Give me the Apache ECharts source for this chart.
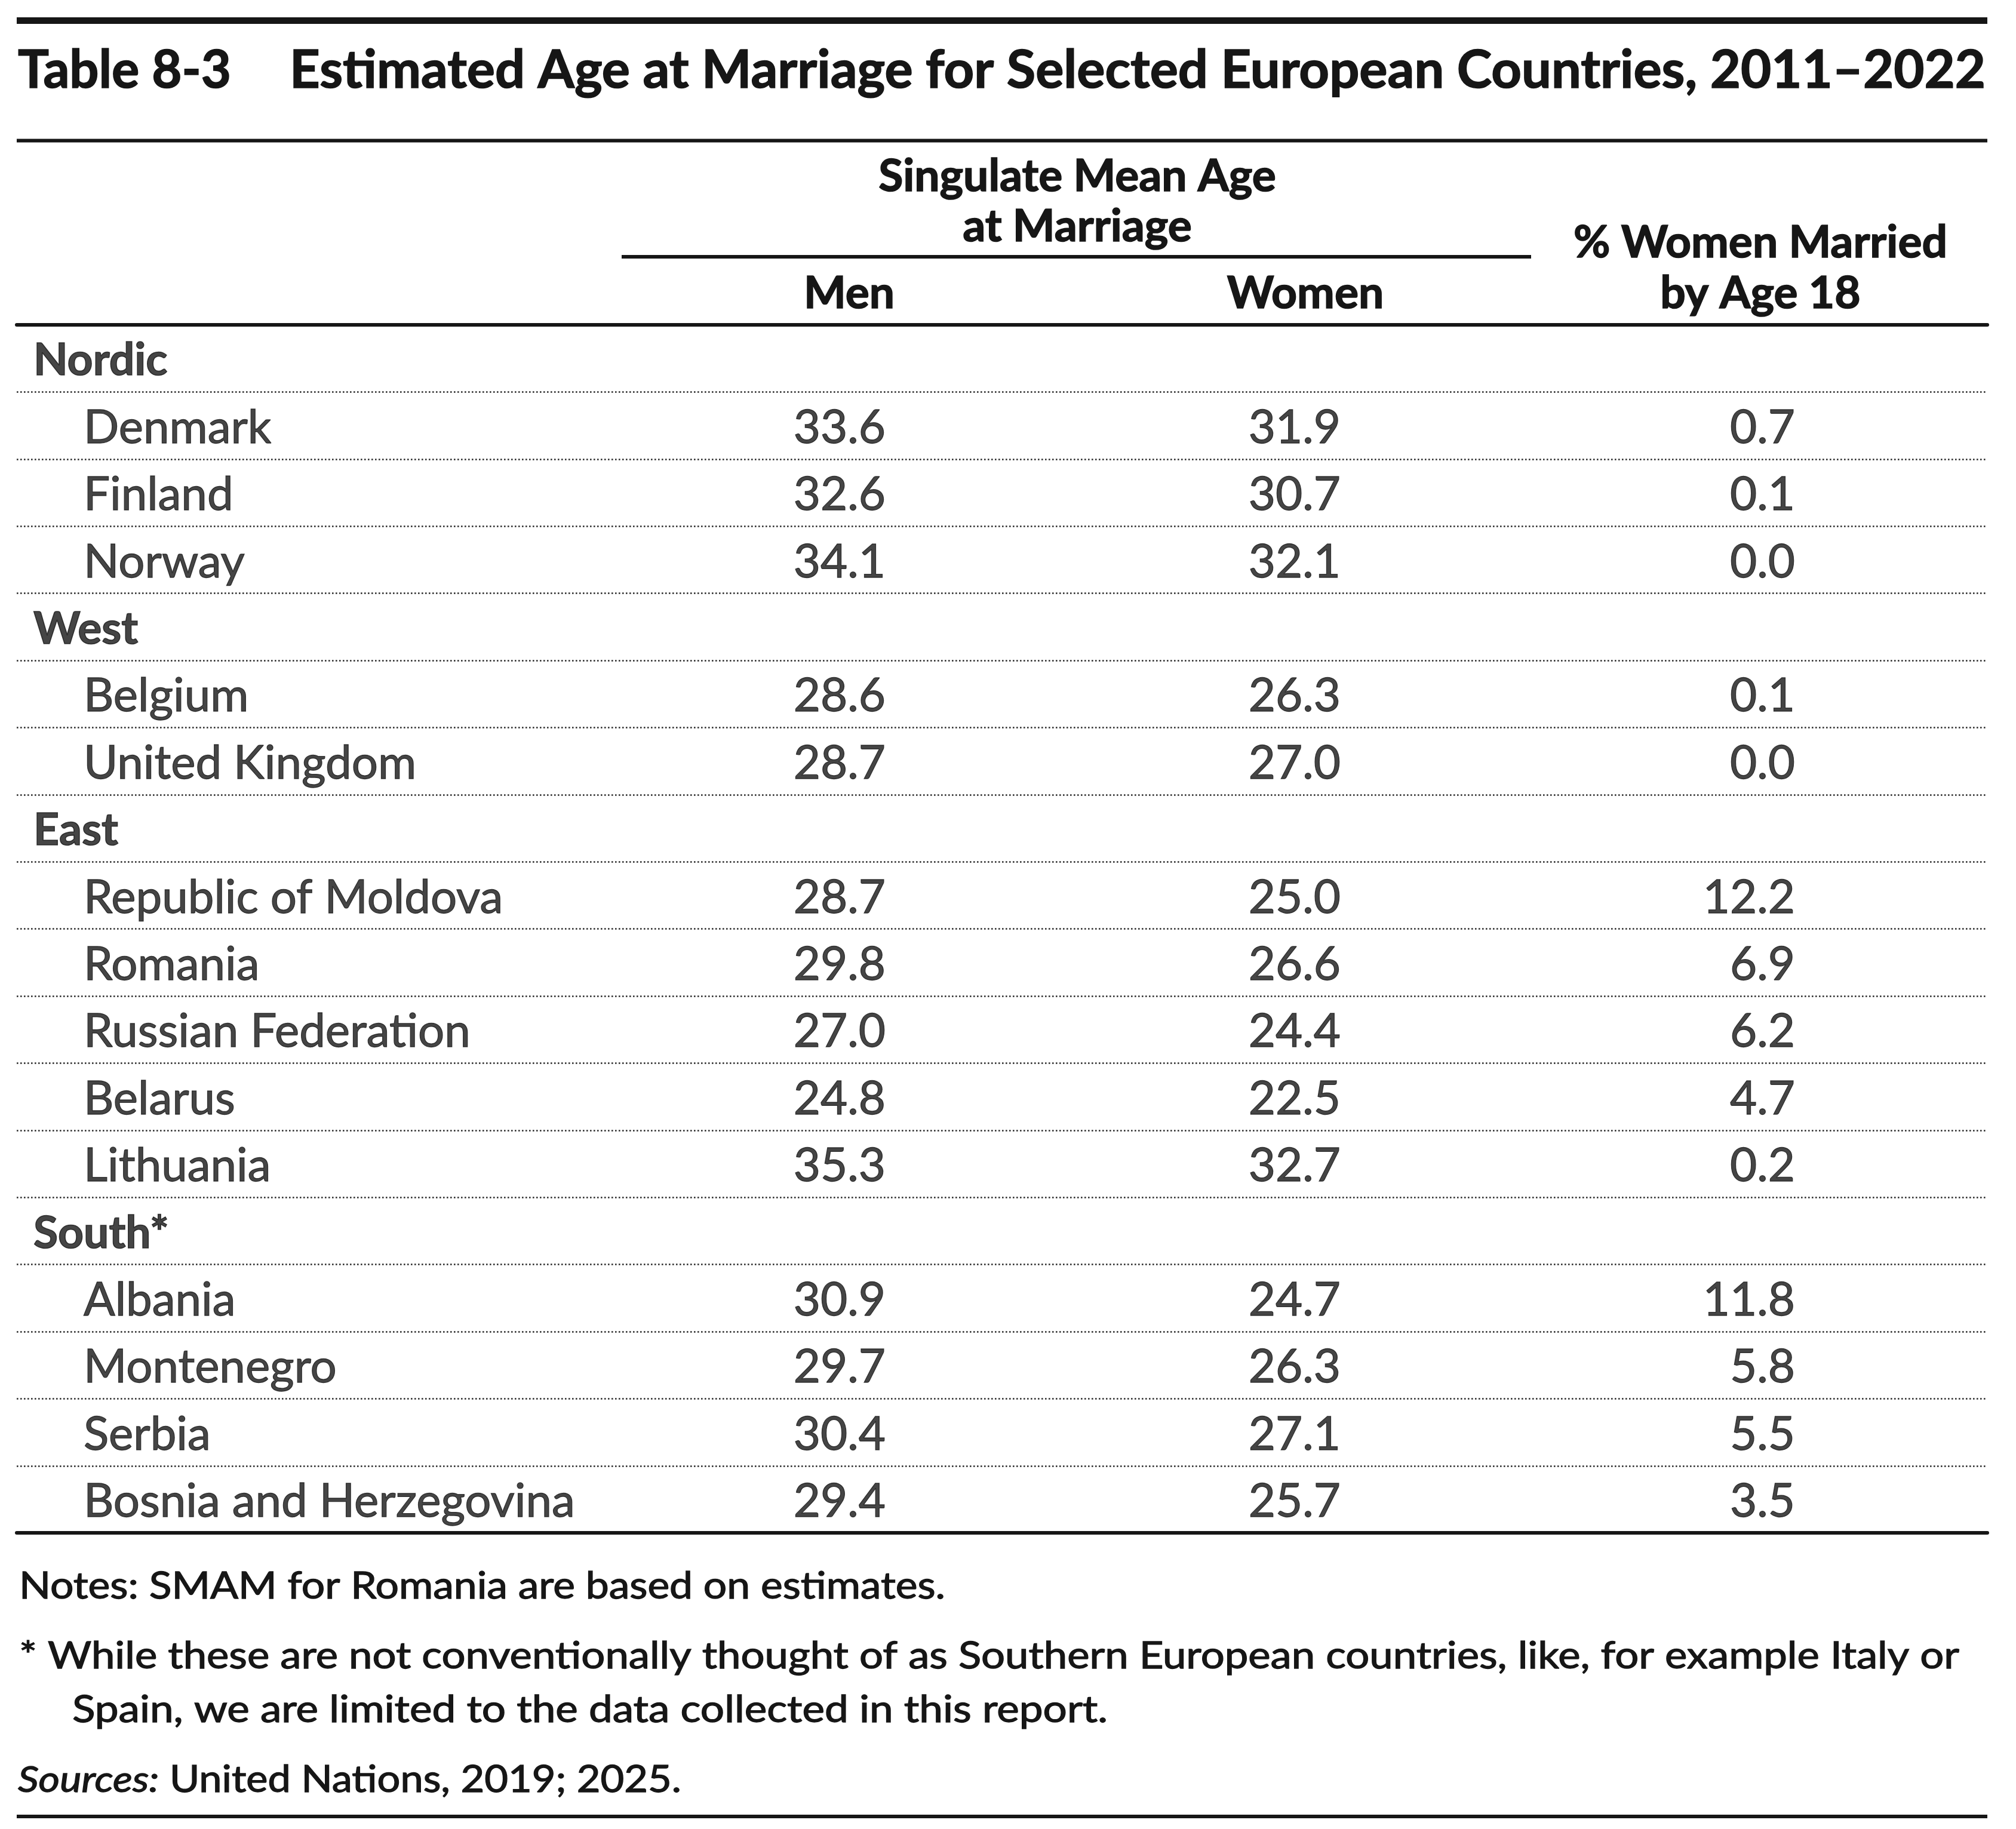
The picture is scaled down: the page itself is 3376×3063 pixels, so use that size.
<!DOCTYPE html>
<html>
<head>
<meta charset="utf-8">
<script src="https://cdn.jsdelivr.net/npm/echarts@6/dist/echarts.min.js"></script>
<style>
html,body{margin:0;padding:0;background:#fff;}
#chart{width:3376px;height:3063px;}
</style>
</head>
<body>
<div id="chart"></div>
<script>
// ---------------- DATA ----------------
const tableNumber = 'Table 8-3';
const tableTitle = 'Estimated Age at Marriage for Selected European Countries, 2011\u20132022';
const spanHeader = ['Singulate Mean Age', 'at Marriage'];
const columnHeaders = ['Men', 'Women'];
const pctHeader = ['% Women Married', 'by Age 18'];
const regions = ['Nordic', 'West', 'East', 'South*'];
const countries = ['Denmark', 'Finland', 'Norway', 'Belgium', 'United Kingdom',
  'Republic of Moldova', 'Romania', 'Russian Federation', 'Belarus', 'Lithuania',
  'Albania', 'Montenegro', 'Serbia', 'Bosnia and Herzegovina'];
const countryRegion = ['Nordic', 'Nordic', 'Nordic', 'West', 'West',
  'East', 'East', 'East', 'East', 'East',
  'South*', 'South*', 'South*', 'South*'];
const menSMAM = [33.6, 32.6, 34.1, 28.6, 28.7, 28.7, 29.8, 27.0, 24.8, 35.3, 30.9, 29.7, 30.4, 29.4];
const womenSMAM = [31.9, 30.7, 32.1, 26.3, 27.0, 25.0, 26.6, 24.4, 22.5, 32.7, 24.7, 26.3, 27.1, 25.7];
const pctMarried18 = [0.7, 0.1, 0.0, 0.1, 0.0, 12.2, 6.9, 6.2, 4.7, 0.2, 11.8, 5.8, 5.5, 3.5];
const notesLine = 'Notes: SMAM for Romania are based on estimates.';
const footnoteLines = ['* While these are not conventionally thought of as Southern European countries, like, for example Italy or',
  'Spain, we are limited to the data collected in this report.'];
const sourceLabel = 'Sources:';
const sourceText = ' United Nations, 2019; 2025.';

// ---------------- LAYOUT ----------------
const INK = '#161616';
const FONT = 'Lato';
const L = 28, R = 3328;            // table left/right edges
const tableTop = 544, rowH = 112.4;
const groupX = 56, countryX = 140; // absolute x of row labels
const menRight = 1483, womenRight = 2245, pctRight = 3006;
const bodySize = 78, headSize = 75, noteSize = 61, titleSize = 88;
const rowDy = 4;       // vertical tweak of body text
const txtDy = 0;       // vertical tweak of graphic texts
const thin = 1.3;      // stroke thickening of regular text
const bold = 1.6;      // stroke thickening of bold text

// rows
const rows = [];
regions.forEach(function (rg) {
  rows.push({ name: rg, group: true });
  countries.forEach(function (c, i) {
    if (countryRegion[i] === rg) rows.push({ name: c, group: false, idx: i });
  });
});
const rowNames = rows.map(function (r) { return r.name; });

const cvs = document.createElement('canvas').getContext('2d');
function textW(t, size, weight, style) {
  cvs.font = (style || 'normal') + ' ' + (weight || 'normal') + ' ' + size + 'px ' + FONT;
  return cvs.measureText(t).width;
}
function fitText(t, x, yMid, size, weight, targetW, style) {
  const w = textW(t, size, weight, style);
  return {
    type: 'text', x: x, y: yMid + txtDy, scaleX: targetW / w, silent: true,
    style: { text: t, fontFamily: FONT, fontSize: size, fontWeight: weight || 'normal',
      fontStyle: style || 'normal', fill: INK, align: 'left', verticalAlign: 'middle',
      stroke: INK, lineWidth: weight === 'bold' ? bold : thin }
  };
}
function centerText(t, cx, yMid, size, weight) {
  return {
    type: 'text', x: cx, y: yMid + txtDy, silent: true,
    style: { text: t, fontFamily: FONT, fontSize: size, fontWeight: weight || 'normal',
      fill: INK, align: 'center', verticalAlign: 'middle',
      stroke: INK, lineWidth: weight === 'bold' ? bold : thin }
  };
}
function rule(x1, x2, y, w) {
  return { type: 'line', silent: true, shape: { x1: x1, y1: y, x2: x2, y2: y },
    style: { stroke: INK, lineWidth: w } };
}

const graphics = [
  rule(L, R, 34.5, 11),
  rule(L, R, 235.5, 6),
  rule(1041, 2564, 430, 6),
  rule(L, R, 3042, 6),
  fitText(tableNumber, 30, 118.5, titleSize, 'bold', 357),
  fitText(tableTitle, 485, 118.5, titleSize, 'bold', 2840),
  centerText(spanHeader[0], 1804, 296, headSize, 'bold'),
  centerText(spanHeader[1], 1804, 380, headSize, 'bold'),
  centerText(columnHeaders[0], 1422, 492, headSize, 'bold'),
  centerText(columnHeaders[1], 2186, 492, headSize, 'bold'),
  centerText(pctHeader[0], 2948, 407, headSize, 'bold'),
  centerText(pctHeader[1], 2948, 492, headSize, 'bold'),
  fitText(notesLine, 32, 2657, noteSize, 'normal', 1551),
  fitText(footnoteLines[0], 32, 2774, noteSize, 'normal', 3249),
  fitText(footnoteLines[1], 121, 2864, noteSize, 'normal', 1734)
];
(function () {
  const w1 = textW(sourceLabel, noteSize, 'normal', 'italic');
  const w2 = textW(sourceText, noteSize, 'normal');
  const s = 1111 / (w1 + w2);
  const a = fitText(sourceLabel, 30, 2981, noteSize, 'normal', w1 * s, 'italic');
  const b = fitText(sourceText, 30 + w1 * s, 2981, noteSize, 'normal', w2 * s);
  graphics.push(a, b);
})();

const chart = echarts.init(document.getElementById('chart'), null, { renderer: 'canvas' });

function numSeries(values, rightX) {
  return {
    type: 'scatter', symbolSize: 0, silent: true, animation: false,
    data: countries.map(function (c, i) { return [rightX - L, c, values[i]]; }),
    label: {
      show: true, position: 'left', distance: 0, offset: [0, rowDy],
      fontFamily: FONT, fontSize: bodySize, color: INK,
      textBorderColor: INK, textBorderWidth: thin,
      formatter: function (p) { return p.value[2].toFixed(1); }
    }
  };
}

const option = {
  backgroundColor: '#fff',
  animation: false,
  grid: { left: L, right: 3376 - R, top: tableTop, height: rowH * rows.length },
  xAxis: [
    { type: 'value', min: 0, max: R - L, position: 'top',
      axisLine: { show: true, lineStyle: { color: INK, width: 6 } },
      axisTick: { show: false }, axisLabel: { show: false }, splitLine: { show: false } },
    { type: 'value', min: 0, max: R - L, position: 'bottom',
      axisLine: { show: true, lineStyle: { color: INK, width: 6 } },
      axisTick: { show: false }, axisLabel: { show: false }, splitLine: { show: false } }
  ],
  yAxis: {
    type: 'category', data: rowNames, inverse: true,
    axisLine: { show: false }, axisTick: { show: false }, axisLabel: { show: false },
    splitLine: { show: true, lineStyle: { color: '#2a2a2a', width: 2.6, type: [2.6, 3.4] } }
  },
  series: [
    {
      type: 'scatter', symbolSize: 0, silent: true, animation: false,
      data: rows.map(function (r) {
        return {
          value: [(r.group ? groupX : countryX) - L, r.name], name: r.name,
          label: {
            fontWeight: r.group ? 'bold' : 'normal', fontSize: r.group ? headSize : bodySize,
            textBorderWidth: r.group ? bold : thin
          }
        };
      }),
      label: {
        show: true, position: 'right', distance: 0, offset: [0, rowDy],
        fontFamily: FONT, fontSize: bodySize, color: INK,
        textBorderColor: INK, textBorderWidth: thin,
        formatter: function (p) { return p.name; }
      }
    },
    numSeries(menSMAM, menRight),
    numSeries(womenSMAM, womenRight),
    numSeries(pctMarried18, pctRight)
  ],
  graphic: { elements: graphics }
};
chart.setOption(option);
</script>
</body>
</html>
